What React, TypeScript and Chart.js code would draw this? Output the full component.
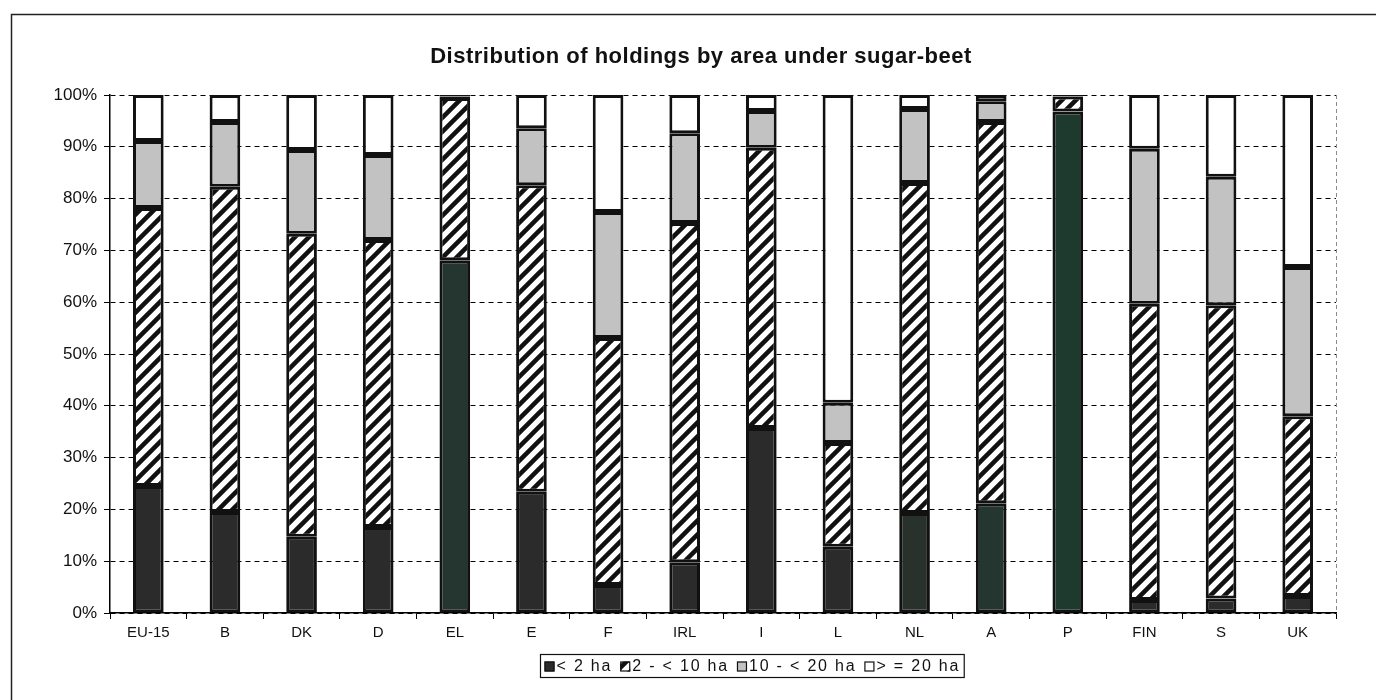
import React, { useEffect, useRef } from 'react';
import { Chart, registerables } from 'chart.js';

Chart.register(...registerables);

// ---- data ----
const categories = ['EU-15', 'B', 'DK', 'D', 'EL', 'E', 'F', 'IRL', 'I', 'L', 'NL', 'A', 'P', 'FIN', 'S', 'UK'];
const seriesLabels = ['< 2 ha', '2 - < 10 ha', '10 - < 20 ha', '> = 20 ha'];
const under2ha = [24.5, 19.5, 14.7, 16.6, 68.1, 23.4, 5.4, 9.8, 35.7, 12.8, 19.3, 21.2, 96.8, 2.5, 2.8, 3.3];
const from2to10ha = [53.7, 62.8, 58.5, 55.4, 31.3, 59.2, 47.7, 65.5, 54.1, 20.0, 63.7, 73.6, 2.9, 57.2, 56.6, 34.7];
const from10to20ha = [12.9, 12.5, 16.2, 16.4, 0.3, 11.0, 24.3, 17.3, 7.1, 7.8, 14.3, 4.0, 0.1, 29.9, 24.8, 28.8];
const over20ha = [8.9, 5.2, 10.6, 11.6, 0.3, 6.4, 22.6, 7.4, 3.1, 59.4, 2.7, 1.2, 0.2, 10.4, 15.8, 33.2];
const yTickValues = [0, 10, 20, 30, 40, 50, 60, 70, 80, 90, 100];
const titleText = 'Distribution of holdings by area under sugar-beet';

const FONT = 'Arial, "Liberation Sans", Helvetica, sans-serif';
const darkFill = '#2a2b2a';
const darkFillPerBar = categories.map((c) =>
  c === 'P' ? '#1e3a2e' : c === 'A' || c === 'EL' ? '#253530' : c === 'NL' ? '#29312d' : darkFill
);
const greyFill = '#c2c2c2';
const whiteFill = '#ffffff';

function makeHatch(): CanvasPattern | string {
  const s = 14;
  const c = document.createElement('canvas');
  c.width = s;
  c.height = s;
  const g = c.getContext('2d');
  if (!g) return '#888';
  g.fillStyle = '#ffffff';
  g.fillRect(0, 0, s, s);
  g.strokeStyle = '#111111';
  g.lineWidth = 4.5;
  g.beginPath();
  g.moveTo(-2, s + 2);
  g.lineTo(s + 2, -2);
  g.moveTo(-5, 5);
  g.lineTo(5, -5);
  g.moveTo(s - 5, s + 5);
  g.lineTo(s + 5, s - 5);
  g.stroke();
  const p = g.createPattern(c, 'repeat');
  return p || '#888';
}

export default function App() {
  const ref = useRef<HTMLCanvasElement>(null);

  useEffect(() => {
    const canvas = ref.current;
    if (!canvas) return;
    const hatch = makeHatch();
    const fills: any[] = [darkFillPerBar, hatch, greyFill, whiteFill];
    const legendFills: any[] = [darkFill, hatch, greyFill, whiteFill];
    const seriesData = [under2ha, from2to10ha, from10to20ha, over20ha];

    const decorPlugin = {
      id: 'decor',
      beforeDraw(chart: any) {
        const ctx = chart.ctx;
        ctx.save();
        ctx.fillStyle = '#ffffff';
        ctx.fillRect(0, 0, chart.width, chart.height);
        ctx.strokeStyle = '#222';
        ctx.lineWidth = 1.5;
        ctx.strokeRect(11.5, 14.5, chart.width + 20, chart.height + 20);
        ctx.restore();
      },
      afterDraw(chart: any) {
        const ctx = chart.ctx;
        const area = chart.chartArea;
        ctx.save();
        ctx.strokeStyle = '#8a8a8a';
        ctx.lineWidth = 1;
        ctx.setLineDash([4, 3]);
        ctx.beginPath();
        ctx.moveTo(area.right + 0.5, area.top);
        ctx.lineTo(area.right + 0.5, area.bottom);
        ctx.stroke();
        ctx.setLineDash([]);

        // title
        ctx.fillStyle = '#111';
        ctx.font = `bold 22px ${FONT}`;
        try { (ctx as any).letterSpacing = '0.5px'; } catch (e) {}
        ctx.textAlign = 'center';
        ctx.textBaseline = 'middle';
        ctx.fillText(titleText, 701, 57);

        // legend
        ctx.font = `16px ${FONT}`;
        try { (ctx as any).letterSpacing = '1.8px'; } catch (e) {}
        ctx.textAlign = 'left';
        const icon = 10;
        const gapIcon = 2;
        const gapItem = 8;
        const padX = 4;
        const widths = seriesLabels.map((t) => ctx.measureText(t).width);
        const total = widths.reduce((a, w) => a + icon + gapIcon + w, 0) + gapItem * (seriesLabels.length - 1);
        const boxW = total + padX * 2;
        const cx = 752;
        const boxTop = 654;
        const boxH = 23;
        const left = Math.round(cx - boxW / 2) + 0.5;
        ctx.strokeStyle = '#111';
        ctx.lineWidth = 1.2;
        ctx.strokeRect(left, boxTop + 0.5, boxW, boxH);
        let x = left + padX;
        const cy = boxTop + boxH / 2 + 1;
        seriesLabels.forEach((t, i) => {
          ctx.fillStyle = legendFills[i];
          ctx.fillRect(x, cy - icon / 2, icon, icon);
          ctx.lineWidth = 1.2;
          ctx.strokeStyle = '#111';
          ctx.strokeRect(x + 0.5, cy - icon / 2 + 0.5, icon - 1, icon - 1);
          x += icon + gapIcon;
          ctx.fillStyle = '#111';
          ctx.fillText(t, x, cy);
          x += widths[i] + gapItem;
        });
        try { (ctx as any).letterSpacing = '0px'; } catch (e) {}
        ctx.restore();
      },
    };

    const chart = new Chart(canvas, {
      type: 'bar',
      data: {
        labels: categories,
        datasets: seriesLabels.map((label, i) => ({
          label,
          data: seriesData[i],
          backgroundColor: fills[i],
          borderColor: '#111',
          borderWidth: 3,
          borderSkipped: false,
          categoryPercentage: 1,
          barPercentage: 0.4,
        })),
      },
      options: {
        animation: false,
        responsive: false,
        devicePixelRatio: 1,
        layout: { padding: { top: 95, left: 0, right: 40, bottom: 47 } },
        plugins: {
          legend: { display: false },
          title: { display: false },
          tooltip: { enabled: false },
        },
        scales: {
          x: {
            stacked: true,
            grid: {
              display: true,
              drawOnChartArea: false,
              drawTicks: true,
              tickLength: 6,
              color: '#000',
              tickColor: '#000',
              offset: true,
            },
            border: { display: true, color: '#000', width: 1.5 },
            ticks: {
              color: '#111',
              font: { family: FONT, size: 15 },
              padding: 5,
              maxRotation: 0,
              autoSkip: false,
            },
            afterFit: (s: any) => {
              s.height = 40;
            },
          },
          y: {
            stacked: true,
            min: 0,
            max: 100,
            afterBuildTicks: (s: any) => {
              s.ticks = yTickValues.map((v) => ({ value: v }));
            },
            ticks: {
              callback: (v: any) => v + '%',
              color: '#111',
              font: { family: FONT, size: 17 },
              padding: 7,
            },
            grid: {
              color: '#000',
              lineWidth: 1,
              tickLength: 6,
              tickColor: '#000',
              tickBorderDash: [],
            },
            border: { display: true, color: '#000', width: 1.5, dash: [5, 4] },
            afterFit: (s: any) => {
              s.width = 110;
            },
          },
        },
      } as any,
      plugins: [decorPlugin],
    });
    return () => chart.destroy();
  }, []);

  return (
    <div style={{ position: 'absolute', left: 0, top: 0, width: 1376, height: 700 }}>
      <canvas ref={ref} width={1376} height={700} style={{ display: 'block', width: 1376, height: 700 }} />
    </div>
  );
}
